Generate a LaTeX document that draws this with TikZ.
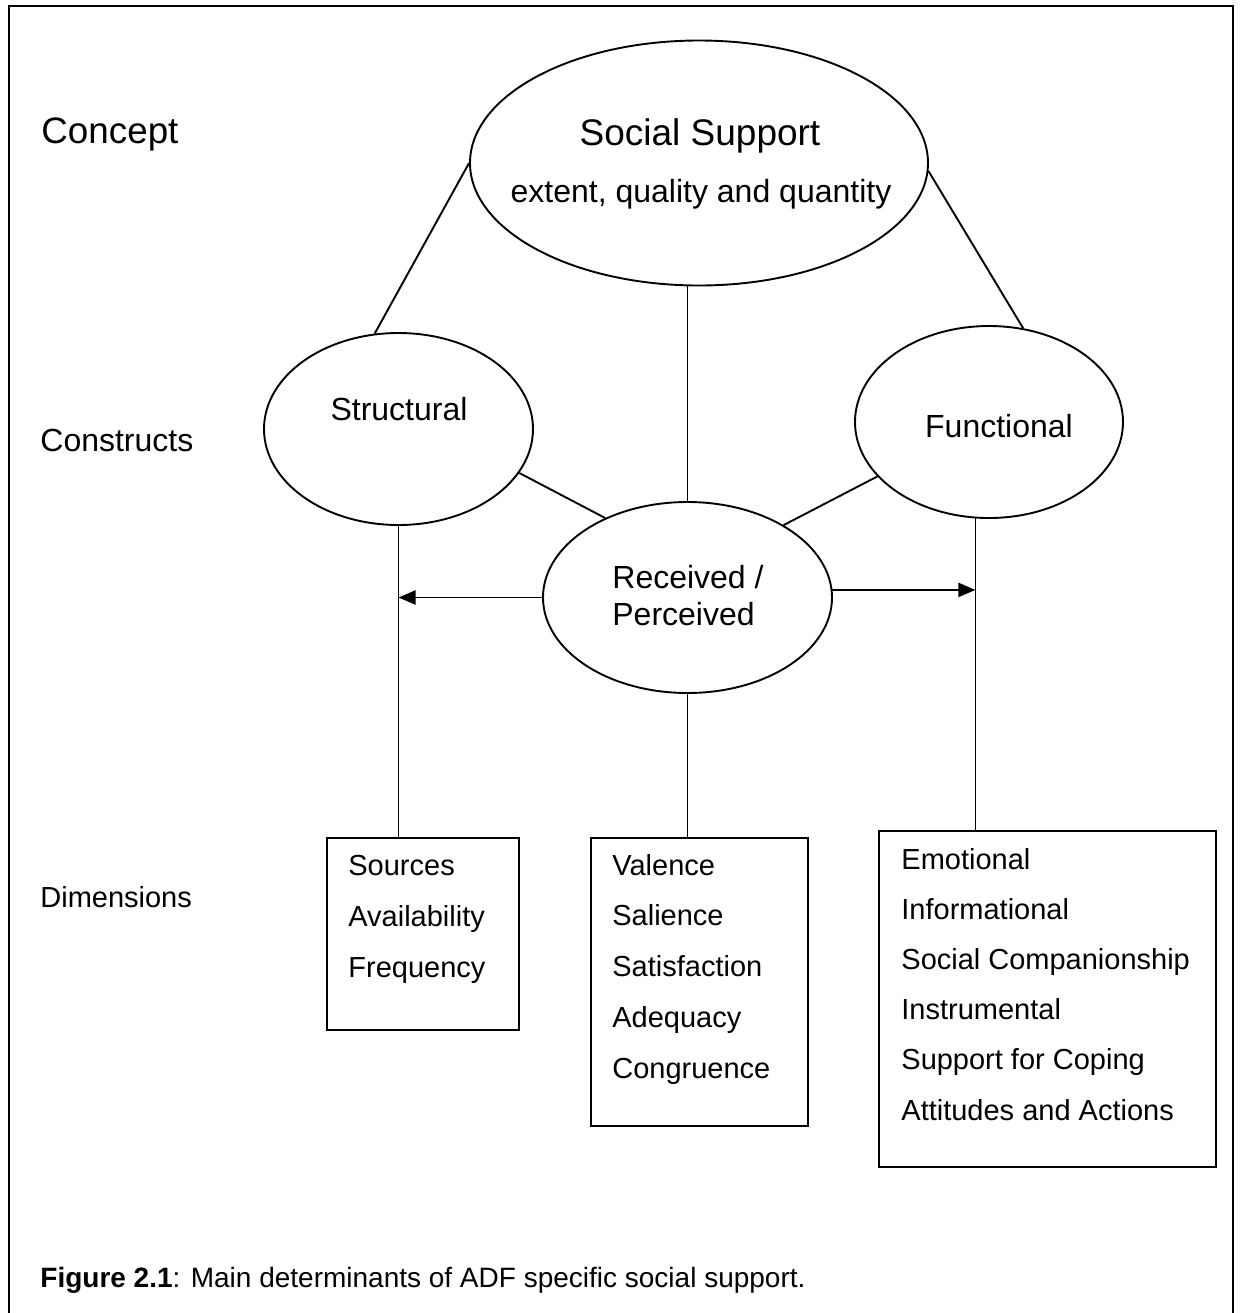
\documentclass[tikz,border=0pt]{standalone}
\usepackage{fontspec}
\setmainfont{Liberation Sans}
\usetikzlibrary{shapes.geometric,arrows.meta}
\begin{document}
\begin{tikzpicture}[x=0.5pt,y=-0.5pt,
  conn/.style={line width=0.95pt},
  oval/.style={ellipse,draw,line width=0.95pt,inner sep=0pt},
  dimbox/.style={rectangle,draw,line width=0.95pt,inner sep=0pt},
  arr/.style={conn,-{Triangle[length=8.5pt,width=7pt]}},
  lbl/.style={inner sep=0pt,anchor=base west},
  ctr/.style={inner sep=0pt,anchor=base},
  big/.style={font=\fontsize{18.5}{22}\selectfont},
  mid/.style={font=\fontsize{16}{19}\selectfont},
  small/.style={font=\fontsize{14.5}{17}\selectfont}]
\useasboundingbox (0,0) rectangle (1240,1313);

% outer frame (open at the bottom edge of the page)
\draw[line width=1.3pt] (9,1313) -- (9,6) -- (1233,6) -- (1233,1313);

% ovals
\node[oval,minimum width=229pt,minimum height=122.5pt] (ss) at (699,163) {};
\node[oval,minimum width=134.5pt,minimum height=96pt] (struct) at (398.5,429) {};
\node[oval,minimum width=134pt,minimum height=96pt] (func) at (989,422) {};
\node[oval,minimum width=144.5pt,minimum height=95.5pt] (rec) at (687.5,597.5) {};

% dimension boxes
\node[dimbox,minimum width=96pt,minimum height=96pt] (sbox) at (423,934) {};
\node[dimbox,minimum width=108.5pt,minimum height=144pt] (rbox) at (699.5,982) {};
\node[dimbox,minimum width=168.5pt,minimum height=168pt] (fbox) at (1047.5,999) {};

% connectors between the levels
\draw[conn] (ss.west) -- (struct.104);
\draw[conn] (ss.-2) -- (func.70.5);
\draw[conn] (rec.north |- ss.south) -- (rec.north);
\draw[conn] (struct.340) -- (rec.136.4);
\draw[conn] (func.206.8) -- (rec.37.9);
\draw[conn] (struct.south) -- (struct.south |- sbox.north);
\draw[conn] (rec.south) -- (rec.south |- rbox.north);
\draw[conn] (func.262) -- (func.262 |- fbox.north);
\draw[arr] (rec.west) -- (struct.south |- rec.west);
\draw[arr] (rec.3) -- (func.262 |- rec.3);

% level labels
\node[lbl,font=\fontsize{18.4}{22}\selectfont] (concept) at (41,143) {Concept};
\node[lbl,mid] (constructs) at (40,451) {Constructs};
\node[lbl,small] (dims) at (40,907) {Dimensions};

% oval texts
\node[ctr,big] (sstitle) at (700,145) {Social Support};
\node[ctr,mid] (sssub) at (701,202) {extent, quality and quantity};
\node[ctr,mid] (structtxt) at (399,420) {Structural};
\node[ctr,mid] (functxt) at (999,437) {Functional};
\node[lbl,mid] (rec1) at (612,588) {Received /};
\node[lbl,mid] (rec2) at (612,625) {Perceived};

% box contents
\foreach \t [count=\i from 0] in {Sources,Availability,Frequency}
  \node[lbl,small] (sl\i) at (348,875+51*\i) {\t};
\foreach \t [count=\i from 0] in {Valence,Salience,Satisfaction,Adequacy,Congruence}
  \node[lbl,small] (rl\i) at (612,875+50.8*\i) {\t};
\foreach \t [count=\i from 0] in {Emotional,Informational,Social Companionship,Instrumental,Support for Coping,Attitudes and Actions}
  \node[lbl,small] (fl\i) at (901,869+50.2*\i) {\t};

% caption
\node[lbl,font=\fontsize{14}{17}\selectfont] (caption) at (40,1287)
  {\textbf{Figure 2.1}: Main determinants of ADF specific social support.};
\end{tikzpicture}
\end{document}
